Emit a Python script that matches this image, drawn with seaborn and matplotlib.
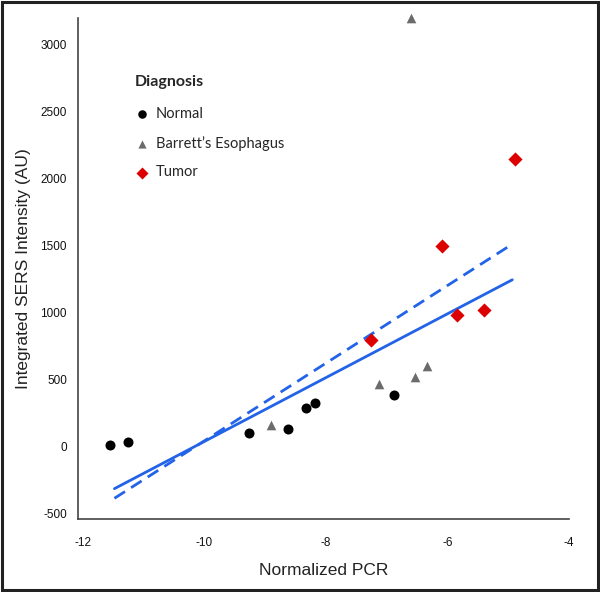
import pandas as pd
import numpy as np
import matplotlib
matplotlib.use("Agg")
import matplotlib.pyplot as plt
import seaborn as sns
from matplotlib.patches import Rectangle

# Data
normal_x = [-11.55, -11.25, -9.26, -8.63, -8.32, -8.18, -6.87]
normal_y = [7, 28, 100, 132, 282, 324, 384]
barrett_x = [-8.91, -7.13, -6.53, -6.34, -6.59]
barrett_y = [157, 464, 516, 597, 3200]
tumor_x = [-7.26, -5.84, -5.39, -6.08, -4.88]
tumor_y = [796, 983, 1016, 1497, 2146]

# fitted lines (end points)
solid_x = [-11.48, -4.93]
solid_y = [-317, 1243]
dashed_x = [-11.48, -4.98]
dashed_y = [-389, 1495]

groups = ["Normal", "Barrett\u2019s Esophagus", "Tumor"]
x_ticks = [-12, -10, -8, -6, -4]
y_ticks = [-500, 0, 500, 1000, 1500, 2000, 2500, 3000]

sns.set_theme(style="white")

df = pd.DataFrame({
    "pcr": normal_x + barrett_x + tumor_x,
    "sers": normal_y + barrett_y + tumor_y,
    "Diagnosis": [groups[0]] * len(normal_x) + [groups[1]] * len(barrett_x) + [groups[2]] * len(tumor_x),
})
fits = pd.DataFrame({
    "pcr": solid_x + dashed_x,
    "sers": solid_y + dashed_y,
    "fit": ["solid"] * 2 + ["dashed"] * 2,
})

fig = plt.figure(figsize=(6, 5.92), dpi=100)
ax = fig.add_axes([0.13, 0.123, 0.818, 0.847])

palette = {groups[0]: "black", groups[1]: "#6b6b6b", groups[2]: "#dd0000"}
markers = {groups[0]: "o", groups[1]: "^", groups[2]: "D"}
sizes = {groups[0]: 52, groups[1]: 48, groups[2]: 52}

for g in groups:
    sub = df[df["Diagnosis"] == g]
    sns.scatterplot(data=sub, x="pcr", y="sers", color=palette[g], marker=markers[g],
                    s=sizes[g], linewidth=0, ax=ax, label=g, zorder=3, clip_on=False)

line_color = "#2363e8"
sns.lineplot(data=fits[fits["fit"] == "solid"], x="pcr", y="sers", color=line_color,
             linewidth=2.0, ax=ax, legend=False, zorder=2)
sns.lineplot(data=fits[fits["fit"] == "dashed"], x="pcr", y="sers", color=line_color,
             linewidth=2.0, ax=ax, legend=False, zorder=2, dashes=False)
ax.lines[-1].set_linestyle((0, (4.5, 2.6)))

ax.set_xlim(-12.08, -4)
ax.set_ylim(-545, 3200)
ax.set_xticks(x_ticks)
ax.set_yticks(y_ticks)
tick_font = ["Liberation Sans Narrow", "Liberation Sans", "DejaVu Sans"]
ax.set_xticklabels([str(t) for t in x_ticks], family=tick_font, fontsize=8.5)
ax.set_yticklabels([str(t) for t in y_ticks], family=tick_font, fontsize=8.5)
ax.tick_params(axis="both", direction="out", length=5, width=1, color="#333333", pad=3, colors="#111111")
ax.tick_params(axis="x", pad=8)

for side in ["top", "right"]:
    ax.spines[side].set_visible(False)
for side in ["left", "bottom"]:
    ax.spines[side].set_color("#444444")
    ax.spines[side].set_linewidth(1.2)

ax.set_xlabel("Normalized PCR", family=["Liberation Sans", "DejaVu Sans"], fontsize=12.5,
              color="#222222", labelpad=10)
ax.set_ylabel("Integrated SERS Intensity (AU)", family=["Liberation Sans", "DejaVu Sans"],
              fontsize=12.5, color="#222222", labelpad=7)

leg = ax.legend(loc="upper left", bbox_to_anchor=(0.103, 0.898), frameon=False,
                title="Diagnosis", prop={"family": ["Lato", "DejaVu Sans"], "size": 10.5},
                handletextpad=0.45, labelspacing=1.02, borderaxespad=0, markerscale=0.85,
                handlelength=1.0)
leg.get_title().set_fontweight("bold")
leg.get_title().set_fontfamily(["Lato", "DejaVu Sans"])
leg.get_title().set_fontsize(11.5)
leg._legend_box.align = "left"
leg._legend_box.sep = 13

# frame around the whole picture
fig.patches.append(Rectangle((0.003, 0.003), 0.994, 0.994, transform=fig.transFigure,
                             fill=False, edgecolor="#222222", linewidth=2.2))

fig.savefig("out.png", dpi=100)
